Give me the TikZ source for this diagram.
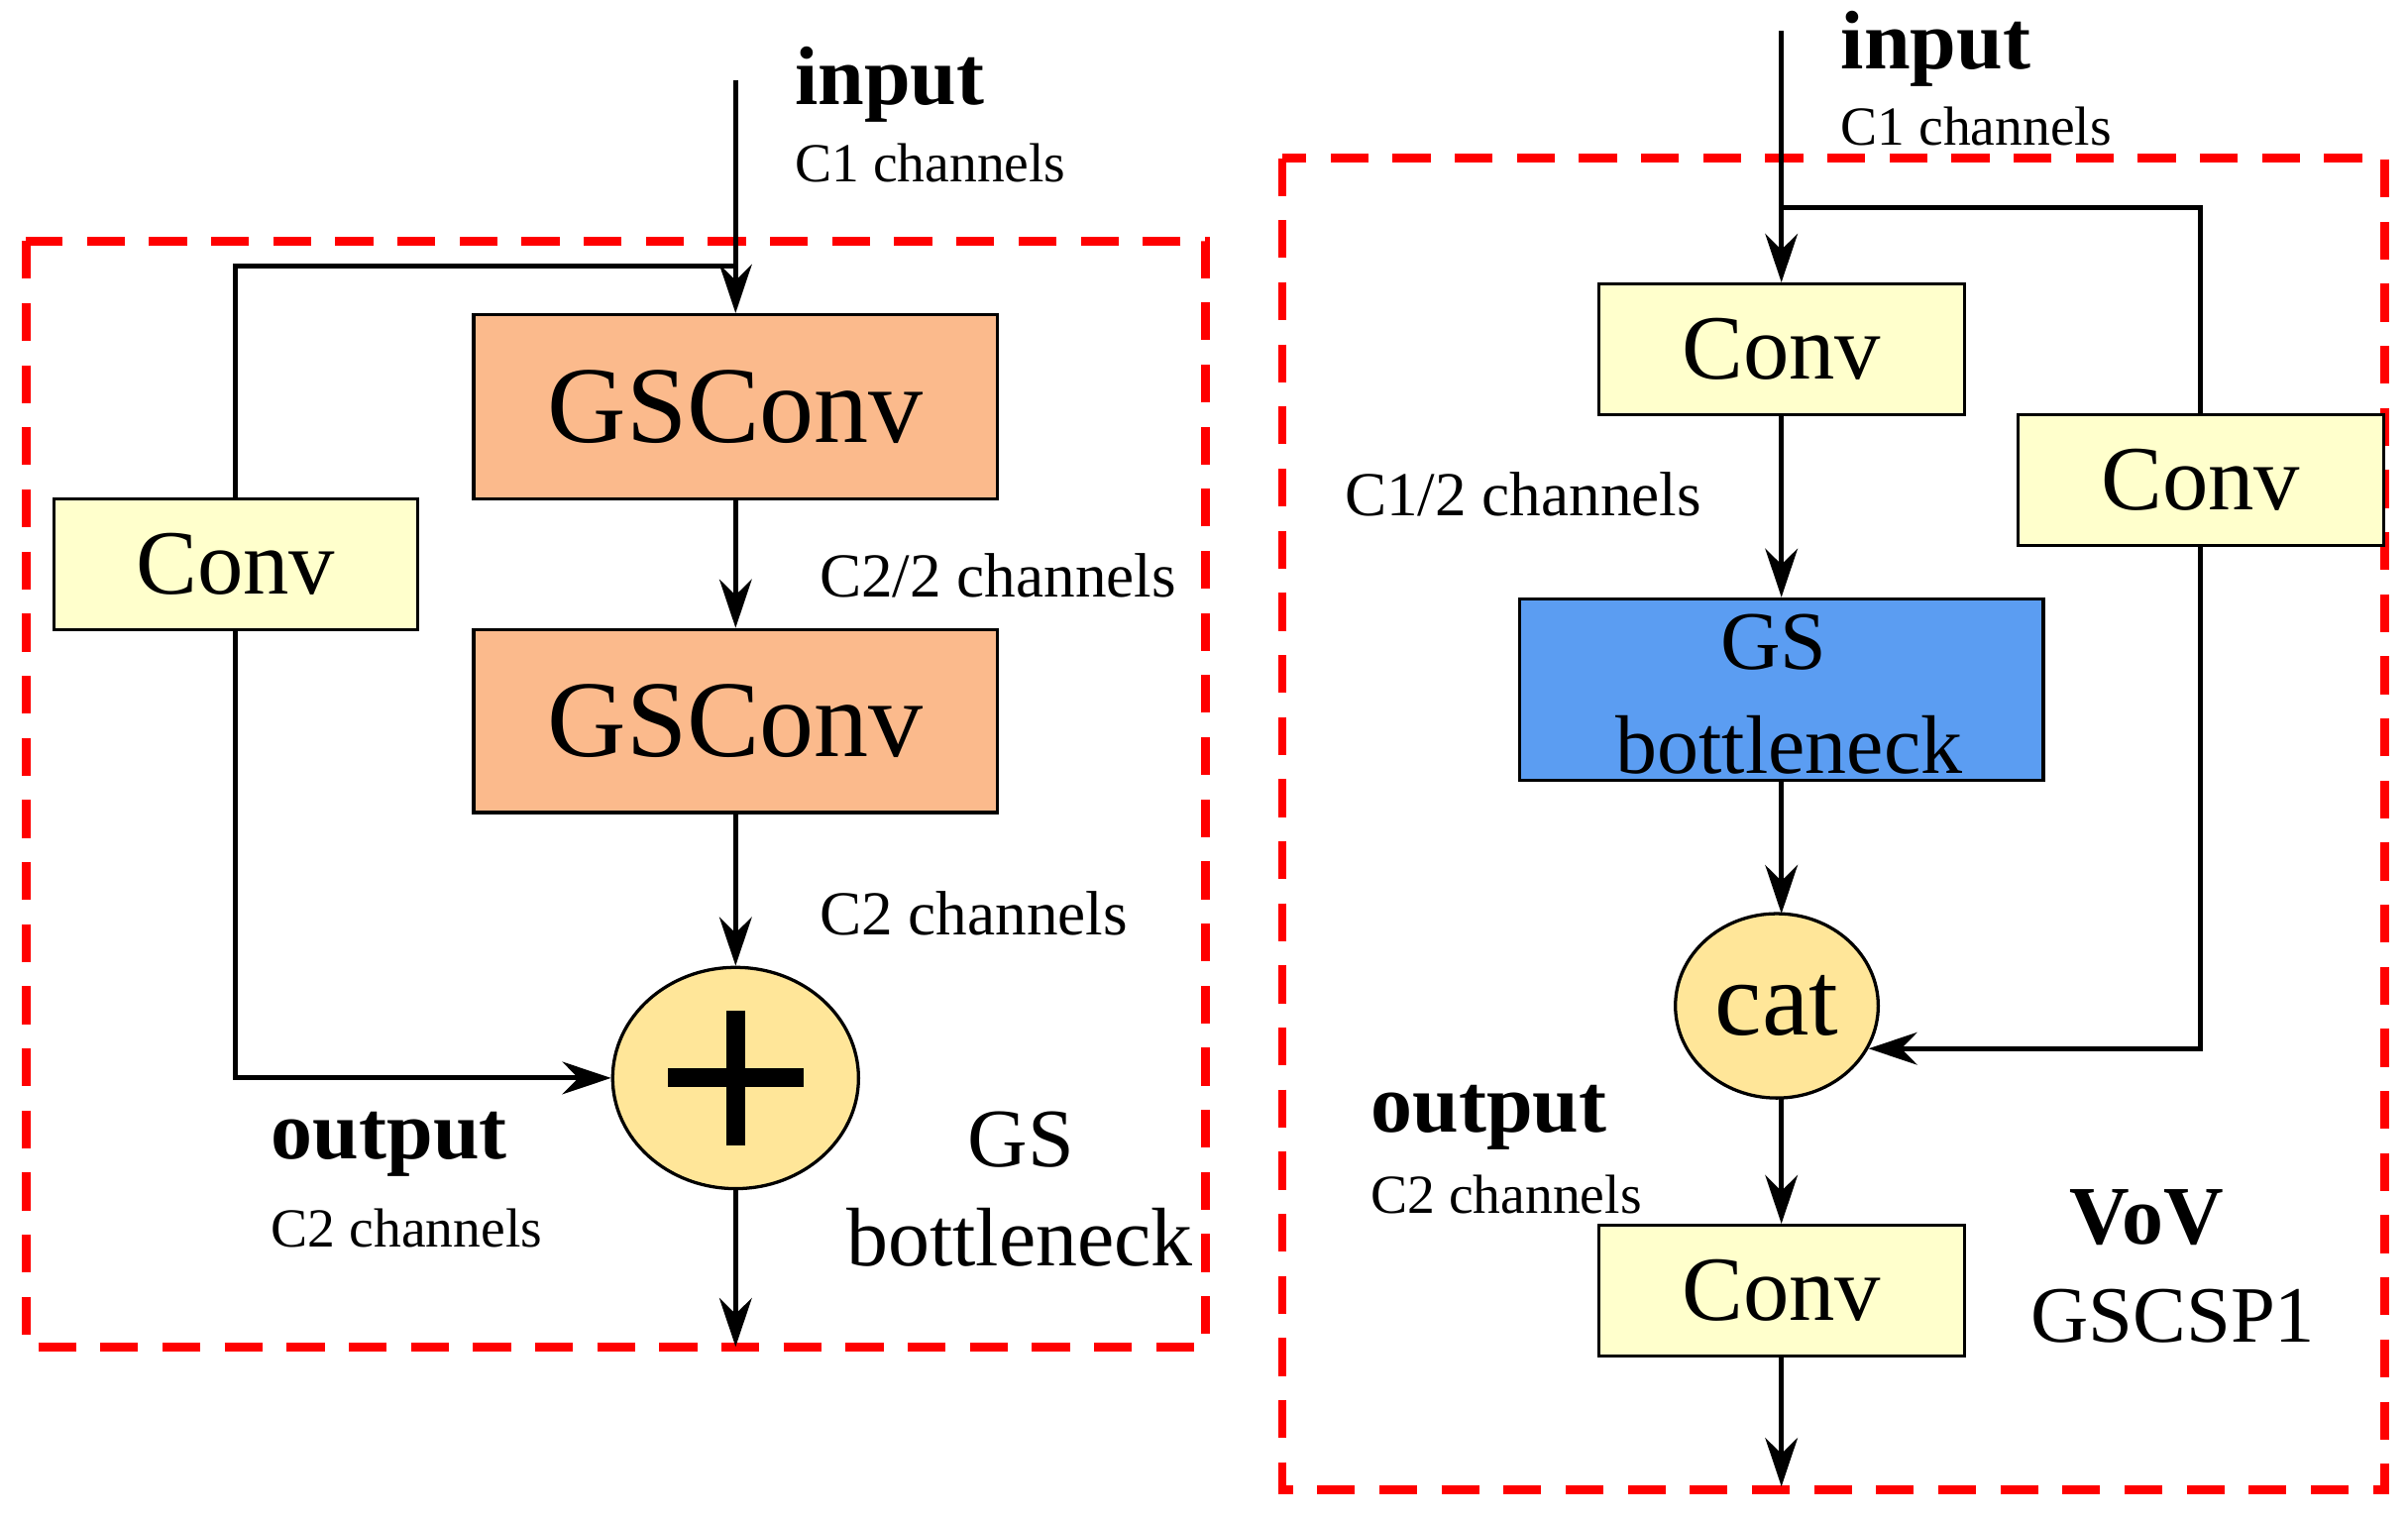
\documentclass[tikz,border=0pt]{standalone}
\usepackage{fontspec}
\setmainfont{Liberation Serif}
\usetikzlibrary{arrows.meta,shapes.geometric}
\definecolor{salmon}{HTML}{FBBA8C}
\definecolor{lyel}{HTML}{FFFFCC}
\definecolor{cir}{HTML}{FFE699}
\definecolor{gsb}{HTML}{5B9DF2}
\begin{document}
\begin{tikzpicture}[x=0.01cm,y=-0.01cm,
 box/.style={draw,line width=0.6pt,inner sep=0},
 ar/.style={line width=0.9pt,-{Stealth[length=9pt,width=6pt]}},
 ln/.style={line width=0.9pt},
 dbox/.style={draw=red,line width=1.6pt,dash pattern=on 7pt off 4.5pt},
 lbl/.style={anchor=west,inner sep=0},
 fs/.style={font=\fontsize{#1}{#1}\selectfont}]
\useasboundingbox (0,0) rectangle (1568,990);
% left
\draw[dbox] (17,157) rectangle (785,877);
\node (g1) at (479,265) [box,fill=salmon,minimum width=3.41cm,minimum height=1.2cm,fs=20.2] {GSConv};
\node (g2) at (479,469.5) [box,fill=salmon,minimum width=3.41cm,minimum height=1.19cm,fs=20.2] {GSConv};
\node (c1) at (153.5,367.5) [box,fill=lyel,minimum width=2.37cm,minimum height=0.85cm,fs=17] {Conv};
\node (pl) at (479,702) [draw,line width=0.6pt,fill=cir,ellipse,minimum width=1.6cm,minimum height=1.44cm,inner sep=0] {};
\draw[line width=3.5pt] (pl.center)+(-44,0) -- +(44,0) (pl.center)+(0,-44) -- +(0,44);
\coordinate (in1) at (479,52);
\coordinate (j1) at (479,173);
\coordinate (o1) at (479,877);
\draw[ar] (in1) -- (g1.north);
\draw[ln] (c1.north) |- (j1);
\draw[ar] (g1.south) -- (g2.north);
\draw[ar] (g2.south) -- (pl.north);
\draw[ar] (c1.south) |- (pl.west);
\draw[ar] (pl.south) -- (o1);
\node[lbl,fs=15.4] at (517,55) {\textbf{input}};
\node[lbl,fs=10.2] at (517,106) {C1 channels};
\node[lbl,fs=11.6] at (533,375) {C2/2 channels};
\node[lbl,fs=11.6] at (533,595) {C2 channels};
\node[lbl,fs=15.4] at (176,745) {\textbf{output}};
\node[lbl,fs=10.2] at (176,800) {C2 channels};
\node[fs=15.4,inner sep=0] at (665,742) {GS};
\node[fs=15.4,inner sep=0] at (664,806) {bottleneck};
% right
\draw[dbox] (835,103) rectangle (1553,970);
\node (r1) at (1160,227.5) [box,fill=lyel,minimum width=2.38cm,minimum height=0.85cm,fs=17] {Conv};
\node (r2) at (1433,312.5) [box,fill=lyel,minimum width=2.38cm,minimum height=0.85cm,fs=17] {Conv};
\node (gb) at (1160,449) [box,fill=gsb,minimum width=3.41cm,minimum height=1.18cm] {};
\node[fs=15.4,inner sep=0] at (1155,418) {GS};
\node[fs=15.4,inner sep=0] at (1165,485) {bottleneck};
\node (cat) at (1157,655) [draw,line width=0.6pt,fill=cir,ellipse,minimum width=1.32cm,minimum height=1.2cm,inner sep=0,fs=19.6] {cat};
\node (r3) at (1160,840.5) [box,fill=lyel,minimum width=2.38cm,minimum height=0.85cm,fs=17] {Conv};
\coordinate (in2) at (1160,20);
\coordinate (j2) at (1160,135);
\coordinate (o2) at (1160,968);
\draw[ar] (in2) -- (r1.north);
\draw[ln] (j2) -| (r2.north);
\draw[ar] (r1.south) -- (gb.north);
\draw[ar] (gb.south) -- (1160,595);
\draw[ar] (r2.south) |- (cat.-25);
\draw[ar] (1160,715) -- (r3.north);
\draw[ar] (r3.south) -- (o2);
\node[lbl,fs=15.4] at (1198,32) {\textbf{input}};
\node[lbl,fs=10.2] at (1198,82) {C1 channels};
\node[lbl,fs=11.6] at (875,322) {C1/2 channels};
\node[lbl,fs=15.4] at (892,728) {\textbf{output}};
\node[lbl,fs=10.2] at (892,778) {C2 channels};
\node[fs=15.4,inner sep=0] at (1398,793) {\textbf{VoV}};
\node[fs=14.8,inner sep=0] at (1415,857) {GSCSP1};
\end{tikzpicture}
\end{document}
